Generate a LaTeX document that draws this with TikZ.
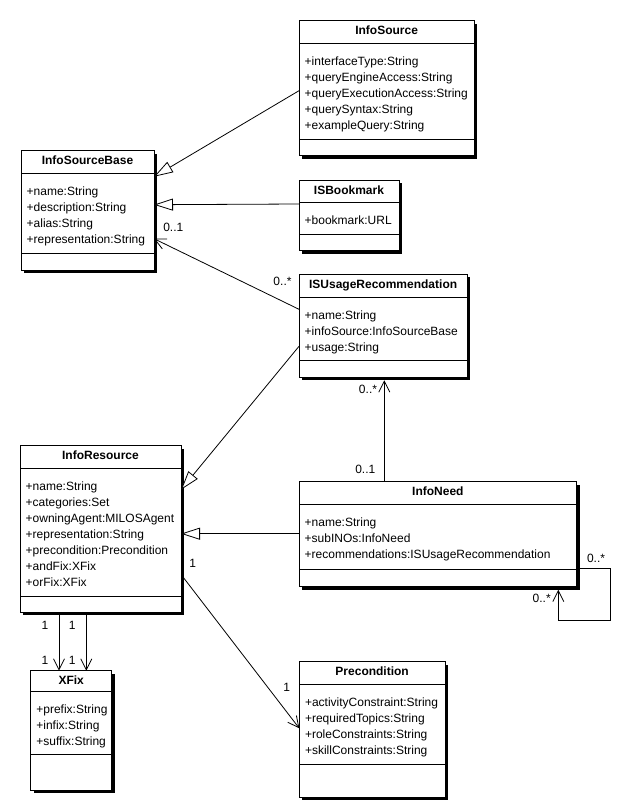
\documentclass[tikz,border=0pt]{standalone}
\usepackage{fontspec}
\setmainfont{Liberation Sans}
\usetikzlibrary{arrows.meta,calc}

\tikzset{
  classbox/.style={draw, line width=1pt, fill=white, inner sep=0pt, outer sep=0pt, anchor=north west},
  ctitle/.style={font=\fontsize{12}{14}\selectfont\bfseries, inner sep=0pt, anchor=base},
  cattr/.style={font=\fontsize{12}{14}\selectfont, inner sep=0pt, anchor=base west},
  mult/.style={font=\fontsize{12}{14}\selectfont, inner sep=0pt},
  gen/.style={line width=0.8pt, -{Triangle[open, length=19pt, width=12pt, fill=white]}},
  assoc/.style={line width=0.8pt, -{Straight Barb[length=11pt, width=11pt]}},
}

% name, x, y, width, height, title-separator y, attribute-separator y, title, attributes
\newcommand\umlclass[9]{%
  \fill[black] ({#2+3},{#3+3}) rectangle ({#2+#4+3},{#3+#5+3});
  \node[classbox, minimum width=#4pt, minimum height=#5pt] (#1) at (#2,#3) {};
  \draw[line width=1pt] (#2,#6) -- ({#2+#4},#6);
  \draw[line width=1pt] (#2,#7) -- ({#2+#4},#7);
  \node[ctitle] (#1-t) at ({#2+#4/2},{#3+14}) {#8};
  \foreach \attrline [count=\i] in {#9}{%
    \node[cattr] (#1-a\i) at ({#2+5.5},{#6+22+16*(\i-1)}) {\attrline};}%
}

\begin{document}
\begin{tikzpicture}[x=1pt,y=-1pt]
\useasboundingbox (0,0) rectangle (622,811);
\fill[white] (0,0) rectangle (622,811);

\umlclass{is}{299}{20.7}{175.3}{135}{43.3}{139}{InfoSource}
  {+interfaceType:String,+queryEngineAccess:String,+queryExecutionAccess:String,+querySyntax:String,+exampleQuery:String}
\umlclass{isb}{21}{150.7}{133}{119.3}{173.3}{253.3}{InfoSourceBase}
  {+name:String,+description:String,+alias:String,+representation:String}
\umlclass{isbm}{299}{180}{100}{70.7}{202.3}{234.3}{ISBookmark}
  {+bookmark:URL}
\umlclass{isur}{299}{274.3}{168.3}{103}{297.7}{360.7}{ISUsageRecommendation}
  {+name:String,+infoSource:InfoSourceBase,+usage:String}
\umlclass{ir}{20}{445.7}{161}{166.6}{468.3}{596}{InfoResource}
  {+name:String,+categories:Set,+owningAgent:MILOSAgent,+representation:String,+precondition:Precondition,+andFix:XFix,+orFix:XFix}
\umlclass{in}{299}{481.7}{277.7}{105}{504}{569}{InfoNeed}
  {+name:String,+subINOs:InfoNeed,+recommendations:ISUsageRecommendation}
\umlclass{xf}{30.7}{670.7}{81}{119.3}{691}{754}{XFix}
  {+prefix:String,+infix:String,+suffix:String}
\umlclass{pc}{299.3}{661.7}{145.7}{135.6}{684.3}{764.3}{Precondition}
  {+activityConstraint:String,+requiredTopics:String,+roleConstraints:String,+skillConstraints:String}

% connectors
\draw[gen] ($(is.north west)+(0,70)$) -- ($(isb.north east)+(0,26)$);
\draw[gen] ($(isbm.north west)+(0,24)$) -- ($(isb.north east)+(0,54)$);
\draw[assoc] ($(isur.north west)+(0,35)$) -- ($(isb.north east)+(0,88)$);
\draw[gen] ($(isur.north west)+(0,72)$) -- ($(ir.north east)+(0,44)$);
\draw[assoc] ($(in.north west)+(85.3,0)$) -- ($(isur.south west)+(85.3,3)$);
\draw[gen] ($(in.north west)+(0,52)$) -- ($(ir.north east)+(0,88)$);
\draw[assoc] ($(ir.north east)+(1,130)$) -- ($(pc.north west)+(0,66.6)$);
\draw[assoc] ($(ir.south west)+(39,3)$) -- ($(xf.north west)+(28.3,0)$);
\draw[assoc] ($(ir.south west)+(66.3,3)$) -- ($(xf.north west)+(55.6,0)$);
\draw[assoc] ($(in.south east)+(3,-18)$) -| ++(31,52) -| ($(in.south west)+(259.3,3)$);

% multiplicities
\node[mult] (l1) at (173.3,227.3) {0..1};
\node[mult] (l2) at (282.5,281.5) {0..*};
\node[mult] (l3) at (368,389.3) {0..*};
\node[mult] (l4) at (365.3,469.3) {0..1};
\node[mult] (l5) at (192.7,563.3) {1};
\node[mult] (l6) at (286.7,687.7) {1};
\node[mult] (l7) at (45,625) {1};
\node[mult] (l8) at (72.3,625) {1};
\node[mult] (l9) at (45,660) {1};
\node[mult] (l10) at (72.3,660) {1};
\node[mult] (l11) at (596,558.3) {0..*};
\node[mult] (l12) at (541.7,598.3) {0..*};
\end{tikzpicture}
\end{document}
